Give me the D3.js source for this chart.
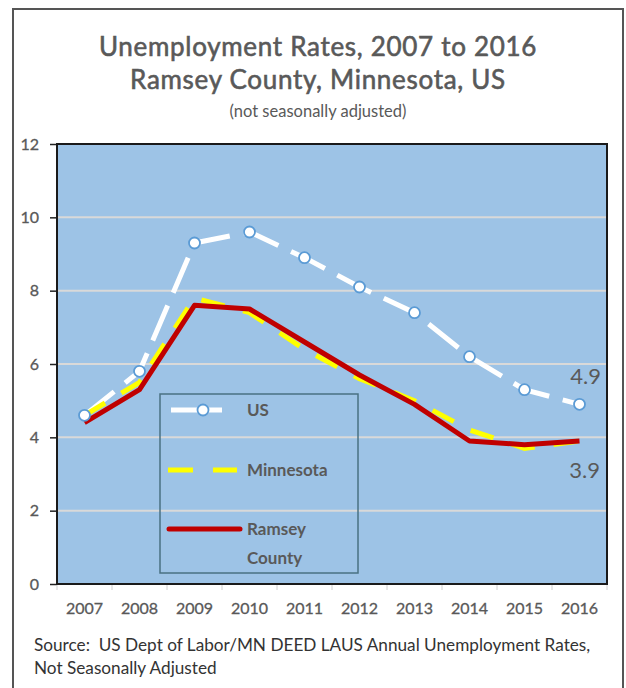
<!DOCTYPE html>
<html>
<head>
<meta charset="utf-8">
<script src="https://cdn.jsdelivr.net/npm/d3@7"></script>
<style>
  html, body { margin: 0; padding: 0; background: #fff; }
  svg { display: block; }
</style>
</head>
<body>
<script>
// Annual unemployment rates (%), not seasonally adjusted
const years = ["2007","2008","2009","2010","2011","2012","2013","2014","2015","2016"];
const usRates = [4.6, 5.8, 9.3, 9.6, 8.9, 8.1, 7.4, 6.2, 5.3, 4.9];
const mnRates = [4.6, 5.5, 7.8, 7.4, 6.4, 5.6, 5.0, 4.2, 3.7, 3.9];
const ramseyRates = [4.4, 5.3, 7.6, 7.5, 6.6, 5.7, 4.9, 3.9, 3.8, 3.9];
const yTicks = [0, 2, 4, 6, 8, 10, 12];

const W = 626, H = 688;
const plot = { left: 57, right: 607, top: 144, bottom: 584 };
const font = "Lato, 'Open Sans', sans-serif";
const grey = "#595959";

const svg = d3.select("body").append("svg").attr("width", W).attr("height", H);

// outer frame (open at the bottom)
svg.append("path")
  .attr("d", `M13,${H} V9 H623 V${H}`)
  .attr("fill", "none").attr("stroke", "#555").attr("stroke-width", 2);

// titles
const titleLines = [["Unemployment Rates, 2007 to 2016", 56], ["Ramsey County, Minnesota, US", 89]];
svg.append("g").selectAll("text").data(titleLines).join("text")
  .attr("x", 318).attr("y", d => d[1]).attr("text-anchor", "middle")
  .attr("font-family", font).attr("font-size", 26).attr("letter-spacing", 0.7)
  .attr("fill", grey).attr("stroke", grey).attr("stroke-width", 0.6)
  .text(d => d[0]);
svg.append("text").attr("x", 318).attr("y", 117).attr("text-anchor", "middle")
  .attr("font-family", font).attr("font-size", 16.5).attr("fill", grey)
  .text("(not seasonally adjusted)");

const x = d3.scaleBand().domain(years).range([plot.left, plot.right]);
const y = d3.scaleLinear().domain([0, 12]).range([plot.bottom, plot.top]);
const cx = d => x(d) + x.bandwidth() / 2;

// plot background
svg.append("rect")
  .attr("x", plot.left).attr("y", plot.top)
  .attr("width", plot.right - plot.left).attr("height", plot.bottom - plot.top)
  .attr("fill", "#9dc3e6");

// horizontal gridlines
svg.append("g").selectAll("line")
  .data(yTicks.filter(t => t > 0 && t < 12))
  .join("line")
  .attr("x1", plot.left).attr("x2", plot.right)
  .attr("y1", d => y(d)).attr("y2", d => y(d))
  .attr("stroke", "#d9d9d9").attr("stroke-width", 2);

// y axis
const yAxis = svg.append("g").attr("transform", `translate(${plot.left},0)`)
  .call(d3.axisLeft(y).tickValues(yTicks).tickSize(7).tickPadding(11));
yAxis.select(".domain").remove();
yAxis.selectAll(".tick line").attr("stroke", "#222").attr("stroke-width", 1.5);
yAxis.selectAll(".tick text").attr("font-family", font).attr("font-size", 16)
  .attr("fill", grey).attr("stroke", grey).attr("stroke-width", 0.3);

// x axis (ticks at band boundaries)
const xAxis = svg.append("g").attr("transform", `translate(0,${plot.bottom})`)
  .call(d3.axisBottom(x).tickSize(0).tickPadding(19));
xAxis.select(".domain").remove();
xAxis.selectAll(".tick text").attr("font-family", font).attr("font-size", 16)
  .attr("fill", grey).attr("stroke", grey).attr("stroke-width", 0.3);
svg.append("g").selectAll("line")
  .data(years.map(d => x(d)).concat([plot.right]))
  .join("line")
  .attr("x1", d => d).attr("x2", d => d)
  .attr("y1", plot.bottom).attr("y2", plot.bottom + 6)
  .attr("stroke", "#d0d0d0").attr("stroke-width", 1);

// plot border
svg.append("rect")
  .attr("x", plot.left).attr("y", plot.top)
  .attr("width", plot.right - plot.left).attr("height", plot.bottom - plot.top)
  .attr("fill", "none").attr("stroke", "#1a1a1a").attr("stroke-width", 2);

const line = d3.line().x((d, i) => cx(years[i])).y(d => y(d));

// US
svg.append("path").datum(usRates).attr("d", line)
  .attr("fill", "none").attr("stroke", "#fff").attr("stroke-width", 5)
  .attr("stroke-dasharray", "38,14");
// Minnesota
svg.append("path").datum(mnRates).attr("d", line)
  .attr("fill", "none").attr("stroke", "#ffff00").attr("stroke-width", 5)
  .attr("stroke-dasharray", "24,19");
// Ramsey County
svg.append("path").datum(ramseyRates).attr("d", line)
  .attr("fill", "none").attr("stroke", "#c00000").attr("stroke-width", 5)
  .attr("stroke-linejoin", "round");
// US markers
svg.append("g").selectAll("circle").data(usRates).join("circle")
  .attr("cx", (d, i) => cx(years[i])).attr("cy", d => y(d)).attr("r", 5.5)
  .attr("fill", "#fff").attr("stroke", "#5b9bd5").attr("stroke-width", 1.8);

// end-value labels
const last = years.length - 1;
svg.append("text").attr("x", 601).attr("y", y(usRates[last]) - 20)
  .attr("text-anchor", "end").attr("font-family", font).attr("font-size", 22).attr("fill", grey)
  .text(usRates[last].toFixed(1));
svg.append("text").attr("x", 600).attr("y", y(ramseyRates[last]) + 37)
  .attr("text-anchor", "end").attr("font-family", font).attr("font-size", 22).attr("fill", grey)
  .text(ramseyRates[last].toFixed(1));

// legend
const lg = svg.append("g");
lg.append("rect").attr("x", 160).attr("y", 394).attr("width", 198).attr("height", 179)
  .attr("fill", "none").attr("stroke", "#4a7282").attr("stroke-width", 1.5);
lg.append("line").attr("x1", 171).attr("x2", 222).attr("y1", 410).attr("y2", 410)
  .attr("stroke", "#fff").attr("stroke-width", 5).attr("stroke-dasharray", "27,6");
lg.append("circle").attr("cx", 203).attr("cy", 410).attr("r", 5.5)
  .attr("fill", "#fff").attr("stroke", "#5b9bd5").attr("stroke-width", 1.8);
lg.append("line").attr("x1", 168).attr("x2", 237).attr("y1", 470).attr("y2", 470)
  .attr("stroke", "#ffff00").attr("stroke-width", 5).attr("stroke-dasharray", "25,20");
lg.append("line").attr("x1", 169).attr("x2", 240).attr("y1", 529).attr("y2", 529)
  .attr("stroke", "#c00000").attr("stroke-width", 5).attr("stroke-linecap", "round");
const legendText = [["US", 416], ["Minnesota", 476], ["Ramsey", 535], ["County", 564]];
lg.selectAll("text.lab").data(legendText).join("text")
  .attr("x", 247).attr("y", d => d[1])
  .attr("font-family", font).attr("font-size", 17).attr("font-weight", "bold").attr("fill", grey)
  .text(d => d[0]);

// source note
svg.append("text").attr("x", 34).attr("y", 651)
  .attr("font-family", font).attr("font-size", 17.2).attr("fill", "#333")
  .attr("xml:space", "preserve")
  .text("Source:  US Dept of Labor/MN DEED LAUS Annual Unemployment Rates,");
svg.append("text").attr("x", 34).attr("y", 674)
  .attr("font-family", font).attr("font-size", 17.2).attr("fill", "#333")
  .text("Not Seasonally Adjusted");
</script>
</body>
</html>
